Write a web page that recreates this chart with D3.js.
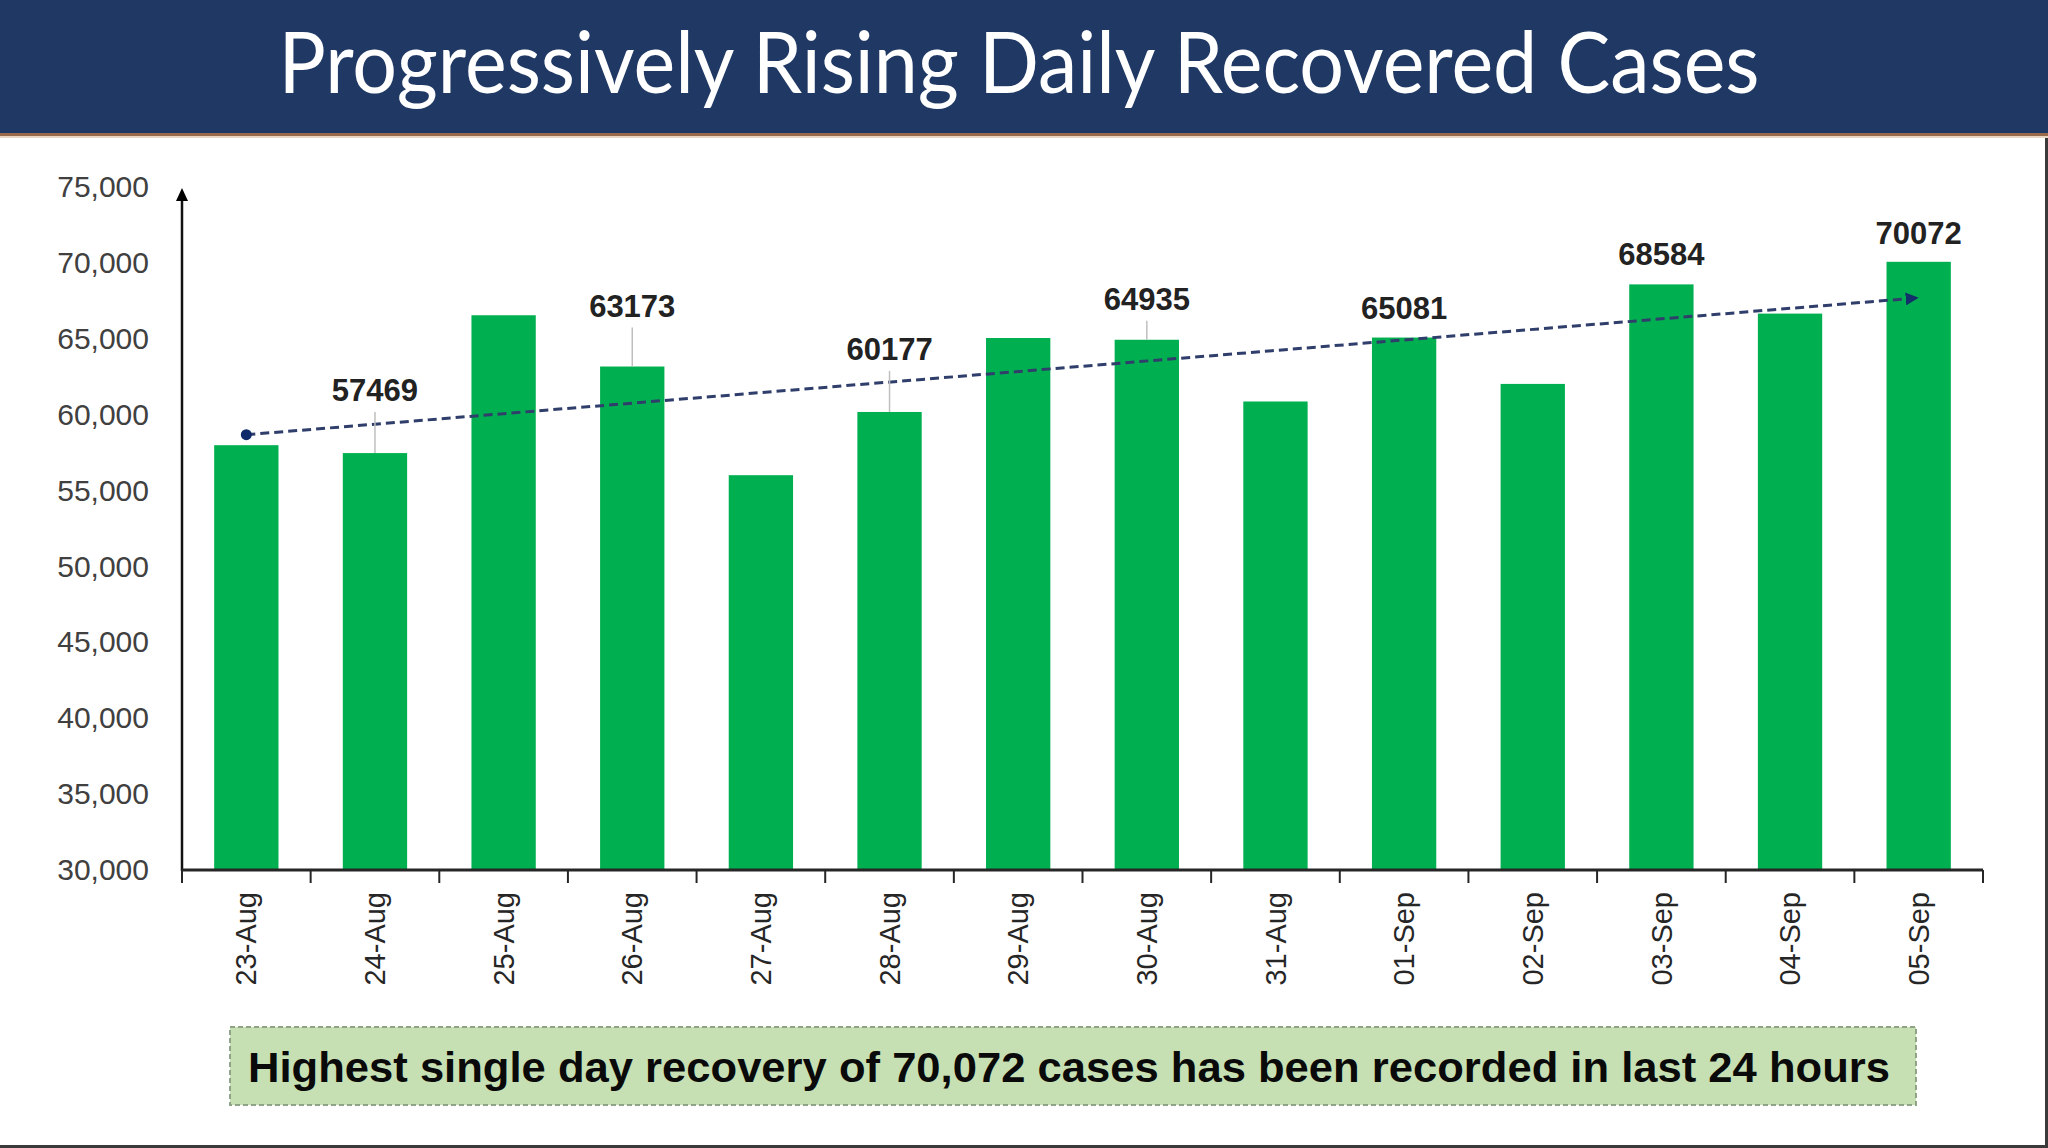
<!DOCTYPE html>
<html><head><meta charset="utf-8">
<script src="https://cdn.jsdelivr.net/npm/d3@7/dist/d3.min.js"></script>
<style>body{margin:0;background:#fff;overflow:hidden}svg{display:block}</style>
</head><body>
<svg id="c" width="2048" height="1148"></svg>
<script>
// ---------- data ----------
const categories = ["23-Aug","24-Aug","25-Aug","26-Aug","27-Aug","28-Aug","29-Aug","30-Aug","31-Aug","01-Sep","02-Sep","03-Sep","04-Sep","05-Sep"];
const recovered  = [57989, 57469, 66550, 63173, 56013, 60177, 65050, 64935, 60868, 65081, 62026, 68584, 66659, 70072];
const labelledDays = ["24-Aug","26-Aug","28-Aug","30-Aug","01-Sep","03-Sep","05-Sep"];
const yTickValues = [30000,35000,40000,45000,50000,55000,60000,65000,70000,75000];
const titleText = "Progressively Rising Daily Recovered Cases";
const noteText = "Highest single day recovery of 70,072 cases has been recorded in last 24 hours";

// ---------- layout (pixels) ----------
const labelGap = {"24-Aug":52,"26-Aug":50,"28-Aug":52,"30-Aug":30,"01-Sep":19,"03-Sep":19,"05-Sep":18};

const svg = d3.select("#c");
const W = 2048, H = 1148;

// header
svg.append("rect").attr("x",0).attr("y",0).attr("width",W).attr("height",134).attr("fill","#1F3864");
svg.append("rect").attr("x",0).attr("y",133).attr("width",W).attr("height",3).attr("fill","#9A6A4C");
svg.append("rect").attr("x",0).attr("y",136).attr("width",W).attr("height",2).attr("fill","#EAD6C2");
svg.append("text").attr("x",1019).attr("y",93).attr("text-anchor","middle")
  .attr("font-family","Lato, 'Open Sans', sans-serif").attr("font-size",86).attr("fill","#fff")
  .attr("textLength",1481).attr("lengthAdjust","spacingAndGlyphs").text(titleText);

// frame borders (right, bottom)
svg.append("rect").attr("x",W-3).attr("y",138).attr("width",3).attr("height",H-138).attr("fill","#3a3a3a");
svg.append("rect").attr("x",0).attr("y",H-3).attr("width",W).attr("height",3).attr("fill","#3a3a3a");

// scales
const x = d3.scaleBand().domain(categories).range([182,1983]).paddingInner(0.5).paddingOuter(0.25);
const y = d3.scaleLinear().domain([30000,75000]).range([870,187]);
const cx = d => x(d) + x.bandwidth()/2;

// bars
svg.append("g").selectAll("rect").data(categories).join("rect")
  .attr("x", d => x(d)).attr("width", x.bandwidth())
  .attr("y", (d,i) => y(recovered[i])).attr("height", (d,i) => y(30000) - y(recovered[i]))
  .attr("fill","#00B050");

// y axis labels
const yAxis = d3.axisLeft(y).tickValues(yTickValues).tickSize(0).tickPadding(0).tickFormat(d3.format(","));
const gy = svg.append("g").attr("transform","translate(149,0)").call(yAxis);
gy.select(".domain").remove();
gy.selectAll("text").attr("font-family","'Liberation Sans', Arial, sans-serif").attr("font-size",30).attr("fill","#404040");

// y axis line with arrow
svg.append("defs").html(
 '<marker id="ya" viewBox="0 0 10 10" refX="5" refY="0" markerWidth="12" markerHeight="13" markerUnits="userSpaceOnUse" orient="auto-start-reverse"><path d="M0,10 L5,0 L10,10 Z" fill="#000"/></marker>'+
 '<marker id="ta" viewBox="0 0 10 10" refX="10" refY="5" markerWidth="13" markerHeight="13" markerUnits="userSpaceOnUse" orient="auto"><path d="M0,0 L10,5 L0,10 Z" fill="#13306B"/></marker>');
svg.append("line").attr("x1",182).attr("x2",182).attr("y1",y(30000)+1).attr("y2",200)
  .attr("stroke","#111").attr("stroke-width",2.5);
svg.append("path").attr("d","M176,201 L182,188 L188,201 Z").attr("fill","#000");

// x axis
const xAxis = d3.axisBottom(x).tickSize(0).tickPadding(0);
const gx = svg.append("g").attr("transform",`translate(0,${y(30000)})`).call(xAxis);
gx.select(".domain").remove();
gx.selectAll("text")
  .attr("font-family","'Liberation Sans', Arial, sans-serif").attr("font-size",29).attr("fill","#262626")
  .attr("text-anchor","end").attr("dy","0.35em")
  .attr("transform","translate(0,22) rotate(-90)")
  .attr("x",0).attr("y",0);
svg.append("line").attr("x1",182).attr("x2",1983).attr("y1",y(30000)).attr("y2",y(30000))
  .attr("stroke","#262626").attr("stroke-width",3);
const step = x.step(), gapHalf = (step - x.bandwidth())/2;
const bounds = categories.map(d => x(d) - gapHalf).concat([x(categories[categories.length-1]) + x.bandwidth() + gapHalf]);
svg.append("g").selectAll("line").data(bounds).join("line")
  .attr("x1",d=>d).attr("x2",d=>d).attr("y1",y(30000)).attr("y2",y(30000)+13)
  .attr("stroke","#262626").attr("stroke-width",2);

// linear trend line (least squares on the series)
const n = recovered.length, idx = d3.range(n);
const mx = d3.mean(idx), my = d3.mean(recovered);
const slope = d3.sum(idx, i => (i-mx)*(recovered[i]-my)) / d3.sum(idx, i => (i-mx)*(i-mx));
const icpt = my - slope*mx;
const trendPts = [[cx(categories[0]), y(icpt)], [cx(categories[n-1]), y(icpt + slope*(n-1))]];
svg.append("line").attr("x1",trendPts[0][0]).attr("y1",trendPts[0][1]).attr("x2",trendPts[1][0]).attr("y2",trendPts[1][1])
  .attr("stroke","#2F3E6B").attr("stroke-width",3).attr("stroke-dasharray","9,5").attr("marker-end","url(#ta)");
svg.append("circle").attr("cx",trendPts[0][0]).attr("cy",trendPts[0][1]).attr("r",5.5).attr("fill","#0F2A6B");

// data labels with leader lines
labelledDays.forEach(d => {
  const i = categories.indexOf(d);
  const top = y(recovered[i]);
  const base = top - labelGap[d];
  if (labelGap[d] > 25) {
    svg.append("line").attr("x1",cx(d)).attr("x2",cx(d)).attr("y1",base+11).attr("y2",top)
      .attr("stroke","#BFBFBF").attr("stroke-width",1.5);
  }
  svg.append("text").attr("x",cx(d)).attr("y",base).attr("text-anchor","middle")
    .attr("font-family","'Liberation Sans', Arial, sans-serif").attr("font-weight","bold")
    .attr("font-size",31).attr("fill","#222").text(recovered[i]);
});

// note box
svg.append("rect").attr("x",230).attr("y",1027).attr("width",1686).attr("height",78)
  .attr("fill","#C6E0B4").attr("stroke","#8FA386").attr("stroke-width",2).attr("stroke-dasharray","5,3");
svg.append("text").attr("x",1069).attr("y",1082).attr("text-anchor","middle")
  .attr("font-family","'Liberation Sans', Arial, sans-serif").attr("font-weight","bold")
  .attr("font-size",42).attr("fill","#0a0a0a")
  .attr("textLength",1642).attr("lengthAdjust","spacingAndGlyphs").text(noteText);
</script>
</body></html>
